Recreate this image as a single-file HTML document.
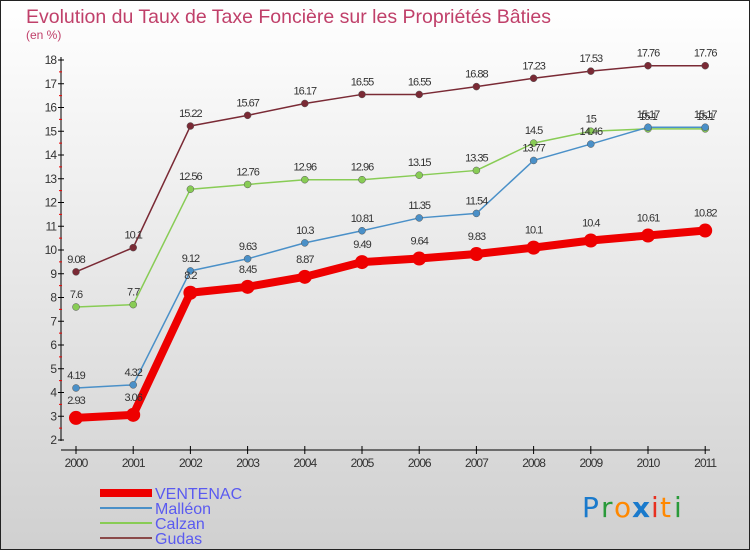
<!DOCTYPE html>
<html><head><meta charset="utf-8"><style>
body{margin:0;}
#wrap{width:750px;height:550px;position:relative;overflow:hidden;font-family:"Liberation Sans",sans-serif;}
</style></head><body>
<div id="wrap">
<svg id="chart" width="750" height="550">
<defs><linearGradient id="bg" x1="0" y1="0" x2="0" y2="1"><stop offset="0" stop-color="#ffffff"/><stop offset="1" stop-color="#d0d0d0"/></linearGradient></defs>
<rect x="0.5" y="0.5" width="749" height="549" fill="url(#bg)" stroke="#222"/>
<text x="26" y="23" font-size="19.5" fill="#c0406a">Evolution du Taux de Taxe Foncière sur les Propriétés Bâties</text>
<text x="26" y="39" font-size="12" fill="#c0406a">(en %)</text>
<g id="axes"></g><g id="series"></g><g id="legend"></g>
<g font-size="28" font-family="'DejaVu Sans',sans-serif">
<text x="582" y="517" fill="#1a7acc">P</text><text x="601" y="517" fill="#2a9a3a">r</text><text x="614" y="517" fill="#ff8800">o</text><text x="632" y="517" fill="#1a7acc" font-weight="bold">x</text><text x="651" y="517" fill="#e83020">i</text><text x="660" y="517" fill="#ff8800">t</text><text x="674" y="517" fill="#2a9a3a">i</text>
</g>
</svg>
</div>
<script>
const years=["2000","2001","2002","2003","2004","2005","2006","2007","2008","2009","2010","2011"];
const ventenac=[2.93,3.06,8.2,8.45,8.87,9.49,9.64,9.83,10.1,10.4,10.61,10.82];
const malleon=[4.19,4.32,9.12,9.63,10.3,10.81,11.35,11.54,13.77,14.46,15.17,15.17];
const calzan=[7.6,7.7,12.56,12.76,12.96,12.96,13.15,13.35,14.5,15,15.1,15.1];
const gudas=[9.08,10.1,15.22,15.67,16.17,16.55,16.55,16.88,17.23,17.53,17.76,17.76];
const yTicks=[2,3,4,5,6,7,8,9,10,11,12,13,14,15,16,17,18];
const NS="http://www.w3.org/2000/svg";
const X=i=>76+i*57.2, Y=v=>440-(v-2)*23.75;
function mk(tag,attrs,parent,txt){const e=document.createElementNS(NS,tag);for(const k in attrs)e.setAttribute(k,attrs[k]);if(txt!==undefined)e.textContent=txt;parent.appendChild(e);return e;}
const ax=document.getElementById('axes');
let l=mk('line',{x1:61,y1:57,x2:61,y2:441,stroke:'#000'},ax);


l=mk('line',{x1:61,y1:450,x2:710,y2:450,stroke:'#000'},ax);


yTicks.forEach(v=>{mk('line',{x1:58,y1:Y(v),x2:64,y2:Y(v),stroke:'#000'},ax);
 if(v<18)mk('line',{x1:59,y1:Y(v+0.5),x2:62,y2:Y(v+0.5),stroke:'#e00'},ax);
 const t=mk('text',{x:56,y:Y(v)+4,'font-size':12,fill:'#333','text-anchor':'end','letter-spacing':'-1'},ax,v);
 
 });
years.forEach((y,i)=>{mk('line',{x1:X(i),y1:446,x2:X(i),y2:454,stroke:'#000'},ax);
 const t=mk('text',{x:X(i),y:467,'font-size':12,fill:'#333','text-anchor':'middle','letter-spacing':'-1'},ax,y);
 
 });
const sg=document.getElementById('series');
function series(data,color,w,r,name,lblDy){
 const g=mk('g',{},sg);
 
 
 mk('polyline',{points:data.map((v,i)=>X(i)+','+Y(v)).join(' '),fill:'none',stroke:color,'stroke-width':w,'stroke-linejoin':'round'},g);
 data.forEach((v,i)=>{const c=mk('circle',{cx:X(i),cy:Y(v),r:r,fill:color,stroke:r>4?'none':'#555','stroke-width':0.5},g);
  
  
  const t=mk('text',{x:X(i),y:Y(v)+lblDy,'font-size':11,fill:'#333','text-anchor':'middle','letter-spacing':'-1'},g,String(v));
  
  });
}
series(gudas,'#7a2a35',1.5,3.5,'gudas',-9);
series(calzan,'#88cc55',1.5,3.5,'calzan',-9);
series(malleon,'#4a90c8',1.5,3.5,'malleon',-9);
series(ventenac,'#ee0000',8,7,'ventenac',-14);
const lg=document.getElementById('legend');
const items=[["VENTENAC","#ee0000",8],["Malléon","#4a90c8",2],["Calzan","#88cc55",2],["Gudas","#8a4a4a",2]];
items.forEach((it,i)=>{const y=493+i*15;const g=mk('g',{},lg);
 
 
 mk('line',{x1:100,y1:y,x2:152,y2:y,stroke:it[1],'stroke-width':it[2]},g);
 mk('text',{x:155,y:y+6,'font-size':16,fill:'#5a5af0'},g,it[0]);});
</script>
</body></html>
